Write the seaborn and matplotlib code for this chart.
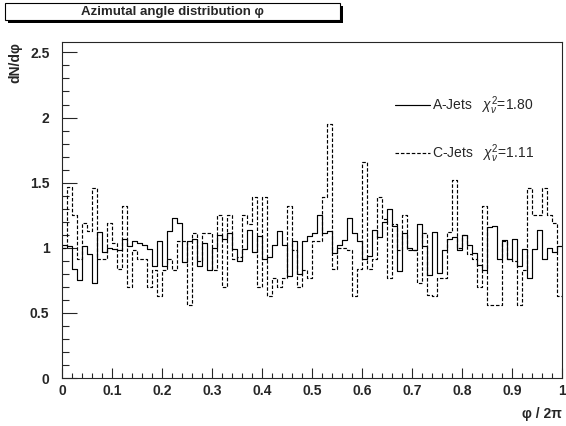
import numpy as np
import pandas as pd
import matplotlib
matplotlib.use("Agg")
import matplotlib.pyplot as plt
from matplotlib.patches import Rectangle
from matplotlib.lines import Line2D
from matplotlib.ticker import MultipleLocator
import seaborn as sns

# phi/2pi histogram, 100 bins between 0 and 1
n_bins = 100
phi_range = (0.0, 1.0)

a_jets = [
    1.02, 1.01, 0.84, 0.75, 1.01, 0.95, 0.73, 1.12, 0.97, 1.00,
    0.99, 0.98, 1.07, 1.01, 1.05, 1.04, 1.02, 0.99, 0.86, 1.05,
    0.86, 1.13, 1.23, 1.19, 0.89, 1.05, 1.07, 0.86, 1.04, 0.83,
    1.00, 1.10, 1.07, 1.11, 0.99, 0.90, 0.99, 1.14, 0.97, 1.09,
    0.91, 0.93, 1.02, 1.13, 1.02, 0.78, 1.05, 0.80, 1.05, 1.09,
    1.11, 1.25, 1.11, 1.13, 0.96, 1.02, 1.06, 1.23, 1.11, 1.05,
    0.91, 0.94, 1.14, 1.08, 1.20, 1.30, 1.17, 0.82, 1.11, 1.00,
    0.98, 1.18, 1.01, 0.79, 1.12, 0.81, 0.98, 1.07, 1.08, 0.98,
    1.10, 1.02, 0.96, 0.87, 0.83, 1.16, 1.17, 0.91, 1.06, 0.91,
    1.07, 0.86, 0.99, 0.77, 0.99, 1.14, 0.91, 1.00, 0.97, 1.01,
]

c_jets = [
    1.00, 1.47, 1.25, 0.91, 1.19, 1.13, 1.46, 0.91, 0.91, 1.19,
    1.04, 0.84, 1.32, 0.70, 0.98, 0.91, 0.91, 0.70, 0.83, 0.63,
    0.83, 0.91, 0.83, 1.05, 1.05, 0.56, 1.11, 0.90, 1.11, 1.11,
    0.83, 1.25, 0.70, 1.25, 0.91, 0.93, 1.25, 1.18, 1.39, 0.70,
    1.39, 0.63, 0.77, 0.70, 0.77, 1.32, 0.98, 0.70, 0.83, 0.77,
    1.05, 1.05, 1.39, 1.95, 0.84, 1.00, 1.00, 0.98, 0.63, 0.84,
    1.66, 0.84, 0.91, 1.39, 1.22, 0.77, 1.18, 0.98, 1.25, 0.98,
    0.98, 0.73, 1.11, 0.64, 0.63, 0.77, 0.77, 1.12, 1.52, 1.00,
    1.10, 0.95, 0.91, 0.70, 1.32, 0.56, 0.56, 0.56, 1.05, 0.91,
    0.90, 0.56, 0.83, 1.46, 1.25, 1.25, 1.46, 1.25, 1.19, 0.63,
]

samples = ["A-Jets", "C-Jets"]
chi2_ndf = ["1.80", "1.11"]

edges = np.linspace(phi_range[0], phi_range[1], n_bins + 1)
centers = 0.5 * (edges[:-1] + edges[1:])
df = pd.DataFrame({
    "phi": np.concatenate([centers, centers]),
    "dN": a_jets + c_jets,
    "sample": [samples[0]] * n_bins + [samples[1]] * n_bins,
})

sns.set_style("ticks")
plt.rcParams["font.family"] = ["Liberation Sans", "DejaVu Sans"]
plt.rcParams["mathtext.fontset"] = "custom"
plt.rcParams["mathtext.rm"] = "Liberation Sans"
plt.rcParams["mathtext.it"] = "Liberation Sans:italic"
plt.rcParams["axes.linewidth"] = 0.8

W, H = 566, 426
fig = plt.figure(figsize=(W / 100, H / 100), dpi=100)
ax = fig.add_axes([62 / W, 1 - 378 / H, 500 / W, 336 / H])

styles = {"A-Jets": "-", "C-Jets": (0, (3, 1.6))}
for name in samples:
    sns.histplot(
        data=df[df["sample"] == name], x="phi", weights="dN",
        bins=n_bins, binrange=phi_range, element="step", fill=False,
        color="black", linewidth=0.85, linestyle=styles[name], ax=ax,
    )

ax.set_xlim(0, 1)
ax.set_ylim(0, 2.58)
ax.xaxis.set_major_locator(MultipleLocator(0.1))
ax.xaxis.set_minor_locator(MultipleLocator(0.02))
ax.yaxis.set_major_locator(MultipleLocator(0.5))
ax.yaxis.set_minor_locator(MultipleLocator(0.1))
ax.xaxis.set_major_formatter(plt.FuncFormatter(lambda v, p: f"{v:g}"))
ax.yaxis.set_major_formatter(plt.FuncFormatter(lambda v, p: f"{v:g}"))
for lab in ax.get_xticklabels() + ax.get_yticklabels():
    lab.set_fontweight("bold")
ax.tick_params(axis="both", which="both", direction="in", labelsize=10,
               width=0.8, top=False, right=False)
ax.tick_params(axis="y", which="major", length=10.5, pad=9)
ax.tick_params(axis="y", which="minor", length=5.2)
ax.tick_params(axis="x", which="major", length=7, pad=4)
ax.tick_params(axis="x", which="minor", length=3.5)
for sp in ax.spines.values():
    sp.set_visible(True)
    sp.set_linewidth(0.8)

ax.set_ylabel("dN/dφ", fontsize=10, fontweight="bold", loc="top")
ax.yaxis.set_label_coords(-0.08, 1.0)
ax.set_xlabel("φ / 2π", fontsize=10, fontweight="bold", loc="right")
ax.xaxis.set_label_coords(1.0, -0.085)

handles = [Line2D([], [], color="black", lw=0.85, linestyle=styles[s]) for s in samples]
labels = [rf"{s}   $\chi^{{2}}_{{\nu}}$={c}" for s, c in zip(samples, chi2_ndf)]
ax.legend(handles, labels, loc="upper left", bbox_to_anchor=(395 / W, 1 - 94 / H),
          bbox_transform=fig.transFigure, frameon=False, fontsize=10,
          handlelength=2.5, handletextpad=0.2, labelspacing=1.85, borderpad=0,
          borderaxespad=0)

# title box with shadow, ROOT style
fig.patches.append(Rectangle((8 / W, 1 - 23 / H), 335 / W, 17 / H,
                             transform=fig.transFigure, fc="black", ec="none"))
fig.patches.append(Rectangle((5 / W, 1 - 20 / H), 335 / W, 17 / H,
                             transform=fig.transFigure, fc="white", ec="black", lw=0.8))
fig.text(172 / W, 1 - 11.5 / H, "Azimutal angle distribution φ", ha="center", va="center",
         fontsize=9.5, fontweight="bold")

fig.savefig("out.png", dpi=100)
